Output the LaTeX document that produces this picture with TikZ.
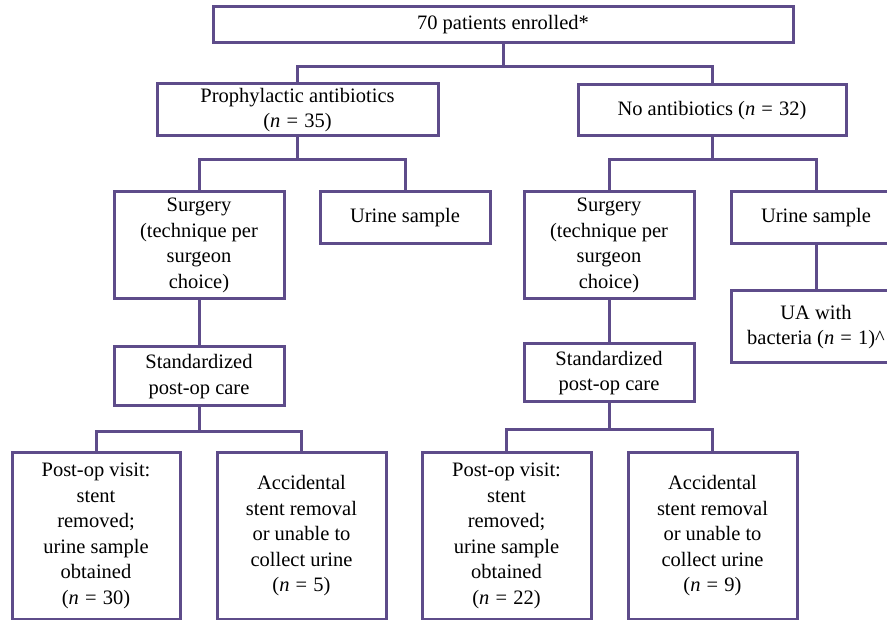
\documentclass[tikz,border=0pt]{standalone}
\usepackage{fontspec}
\setmainfont{Liberation Serif}
\usetikzlibrary{calc}
\definecolor{boxpurple}{RGB}{94,76,138}
\tikzset{
  box/.style={draw=boxpurple, line width=3pt, fill=white, align=center,
    inner sep=0pt, font=\fontsize{20.5}{25.5}\selectfont},
  conn/.style={draw=boxpurple, line width=3pt}
}
\newcommand{\nn}{\textit{n}}
\newcommand{\eqs}{\hspace{0.3em}=\hspace{0.3em}}
\begin{document}
\begin{tikzpicture}[x=1pt,y=1pt]
\useasboundingbox (0,0) rectangle (887,-620);
\begin{scope}
\clip (0,0) rectangle (887,-620);
% level 0
\node[box, minimum width=580, minimum height=36] (top) at (503,-25) {70 patients enrolled*};
% level 1
\node[box, minimum width=281, minimum height=52] (pro) at (297.5,-110) {Prophylactic antibiotics\\(\nn\eqs35)};
\node[box, minimum width=268, minimum height=51] (noab) at (712,-110.5) {No antibiotics (\nn\eqs32)};
% level 2
\node[box, minimum width=170, minimum height=107] (surgL) at (199,-245.5) {Surgery\\(technique per\\surgeon\\choice)};
\node[box, minimum width=170, minimum height=52] (urineL) at (405,-218) {Urine sample};
\node[box, minimum width=170, minimum height=107] (surgR) at (609,-245.5) {Surgery\\(technique per\\surgeon\\choice)};
\node[box, minimum width=170, minimum height=52] (urineR) at (816,-218) {Urine sample};
% level 3
\node[box, minimum width=170, minimum height=72] (ua) at (816,-327) {UA with\\bacteria (\nn\eqs1)\textasciicircum};
\node[box, minimum width=170, minimum height=59] (stdL) at (199,-376.5) {Standardized\\post-op care};
\node[box, minimum width=170, minimum height=58] (stdR) at (609,-373) {Standardized\\post-op care};
% level 4
\node[box, minimum width=168, minimum height=166] (postL) at (96,-536) {Post-op visit:\\stent\\removed;\\urine sample\\obtained\\(\nn\eqs30)};
\node[box, minimum width=169, minimum height=166] (accL) at (301.5,-536) {Accidental\\stent removal\\or unable to\\collect urine\\(\nn\eqs5)};
\node[box, minimum width=169, minimum height=166] (postR) at (506.5,-536) {Post-op visit:\\stent\\removed;\\urine sample\\obtained\\(\nn\eqs22)};
\node[box, minimum width=169, minimum height=166] (accR) at (712.5,-536) {Accidental\\stent removal\\or unable to\\collect urine\\(\nn\eqs9)};
% branch levels
\coordinate (b0) at (0,-67);
\coordinate (b1) at (0,-160);
\coordinate (b2) at (0,-432);
\coordinate (b3) at (0,-430);
% connectors
\draw[conn] (top.south) -- (top.south |- b0) -| (pro.north);
\draw[conn] (top.south |- b0) -| (noab.north);
\draw[conn] (pro.south) -- (pro.south |- b1) -| (surgL.north);
\draw[conn] (pro.south |- b1) -| (urineL.north);
\draw[conn] (noab.south) -- (noab.south |- b1) -| (surgR.north);
\draw[conn] (noab.south |- b1) -| (urineR.north);
\draw[conn] (urineR) -- (ua);
\draw[conn] (surgL) -- (stdL);
\draw[conn] (surgR) -- (stdR);
\draw[conn] (stdL.south) -- (stdL.south |- b2) -| (postL.north);
\draw[conn] (stdL.south |- b2) -| (accL.north);
\draw[conn] (stdR.south) -- (stdR.south |- b3) -| (postR.north);
\draw[conn] (stdR.south |- b3) -| (accR.north);
\end{scope}
\end{tikzpicture}
\end{document}
